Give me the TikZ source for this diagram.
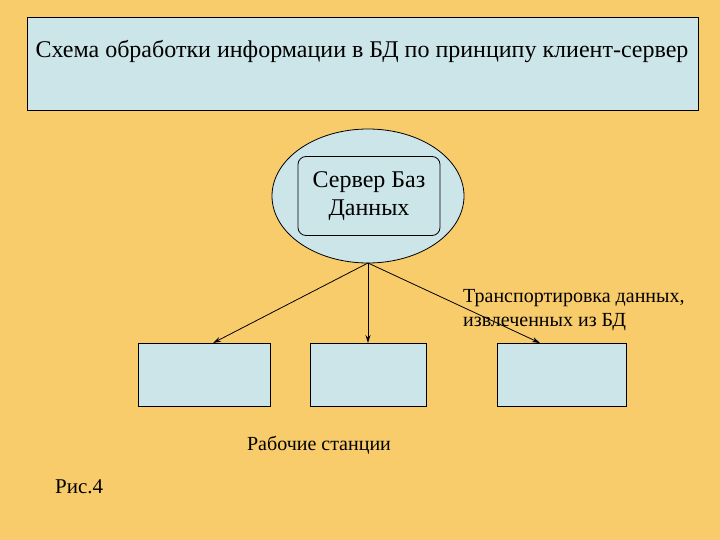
\documentclass[tikz,border=0pt]{standalone}
\usepackage{fontspec}
\setmainfont{Liberation Serif}
\usetikzlibrary{shapes.geometric,arrows.meta}
\definecolor{bg}{HTML}{F9CC6B}
\definecolor{lb}{HTML}{CCE5E8}
\tikzset{box/.style={draw=black,fill=lb,line width=0.8pt},
 arr/.style={-{Stealth[length=8pt,width=5pt]},line width=0.8pt}}
\begin{document}
\begin{tikzpicture}[x=1pt,y=-1pt]
\fill[bg] (0,0) rectangle (720,540);
\useasboundingbox (0,0) rectangle (720,540);
\node[box,minimum width=671pt,minimum height=93pt,anchor=north west,inner sep=0pt] (title) at (27,17) {};
\node[font=\fontsize{24}{28}\selectfont] (tt) at (362,52) {Схема обработки информации в БД по принципу клиент-сервер};
\node[box,ellipse,minimum width=192pt,minimum height=134pt,inner sep=0pt] (ell) at (368,196) {};
\node[box,rounded corners=8pt,minimum width=142pt,minimum height=79pt,align=center,font=\fontsize{24}{28}\selectfont] (srv) at (369,196) {Сервер Баз\\Данных};
\coordinate (o) at (368,263);
\node[box,minimum width=132pt,minimum height=63pt,anchor=north west,inner sep=0pt] (w1) at (138,343) {};
\node[box,minimum width=116pt,minimum height=63pt,anchor=north west,inner sep=0pt] (w2) at (310,343) {};
\node[box,minimum width=129pt,minimum height=63pt,anchor=north west,inner sep=0pt] (w3) at (497,343) {};
\coordinate (e1) at (213,343);
\coordinate (e2) at (368,343);
\coordinate (e3) at (540,343);
\draw[arr] (o) -- (e1);
\draw[arr] (o) -- (e2);
\draw[arr] (o) -- (e3);
\node[anchor=west,align=left,font=\fontsize{20}{24}\selectfont,inner sep=0pt] (lab) at (463,310) {Транспортировка данных,\\извлеченных из БД};
\node[font=\fontsize{20}{24}\selectfont] (ws) at (319,445) {Рабочие станции};
\node[anchor=west,font=\fontsize{21}{24}\selectfont,inner sep=0pt] (fig) at (55,487) {Рис.4};
\end{tikzpicture}
\end{document}
